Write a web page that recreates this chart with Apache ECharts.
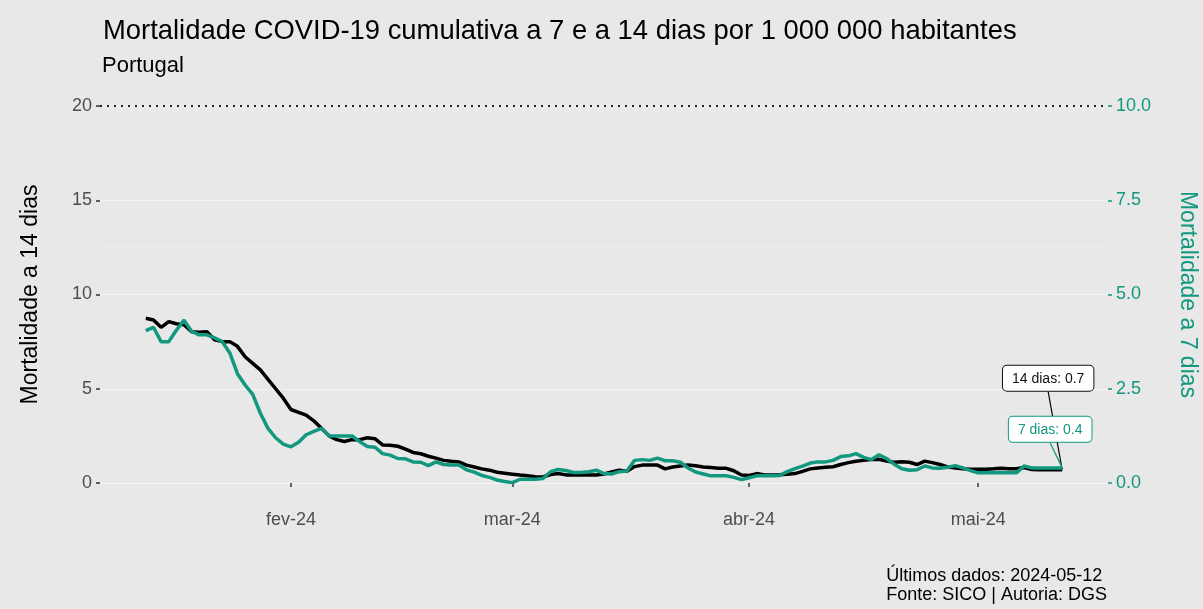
<!DOCTYPE html>
<html>
<head>
<meta charset="utf-8">
<script src="https://cdn.jsdelivr.net/npm/echarts@6/dist/echarts.min.js"></script>
<style>
  html, body { margin: 0; padding: 0; background: #E8E8E8; }
  #chart { width: 1203px; height: 609px; }
</style>
</head>
<body>
<div id="chart"></div>
<script>
// primeiro dia da série (UTC), um valor por dia até 2024-05-12
var startDay = '2024-01-13';

// mortalidade a 14 dias por 1 000 000 hab. (eixo esquerdo)
var mort14 = [
  8.74, 8.65, 8.26, 8.56, 8.45, 8.4, 8.03, 8.0, 8.03, 7.6,
  7.5, 7.5, 7.25, 6.7, 6.35, 6.0, 5.5, 5.0, 4.5, 3.9,
  3.75, 3.6, 3.3, 2.9, 2.5, 2.3, 2.2, 2.3, 2.3, 2.4,
  2.35, 2.02, 2.0, 1.95, 1.8, 1.62, 1.55, 1.42, 1.32, 1.2,
  1.15, 1.12, 0.95, 0.85, 0.75, 0.68, 0.57, 0.52, 0.47, 0.42,
  0.38, 0.33, 0.32, 0.45, 0.5, 0.43, 0.42, 0.42, 0.42, 0.42,
  0.48, 0.58, 0.68, 0.62, 0.87, 0.95, 0.95, 0.95, 0.75, 0.85,
  0.9, 0.95, 0.92, 0.85, 0.82, 0.78, 0.78, 0.65, 0.42, 0.4,
  0.5, 0.42, 0.42, 0.44, 0.47, 0.5, 0.62, 0.75, 0.8, 0.84,
  0.86, 0.98, 1.08, 1.15, 1.2, 1.24, 1.26, 1.16, 1.1, 1.13,
  1.1, 0.98, 1.16, 1.08, 0.98, 0.85, 0.8, 0.75, 0.73, 0.73,
  0.73, 0.75, 0.78, 0.75, 0.76, 0.82, 0.72, 0.7, 0.7, 0.7,
  0.7
];

// mortalidade a 7 dias por 1 000 000 hab. (eixo direito)
var mort7 = [
  4.04, 4.13, 3.75, 3.75, 4.05, 4.32, 4.02, 3.93, 3.93, 3.85,
  3.75, 3.45, 2.9, 2.6, 2.35, 1.85, 1.45, 1.2, 1.03, 0.96,
  1.08, 1.28, 1.37, 1.45, 1.25, 1.25, 1.25, 1.25, 1.1, 0.97,
  0.95, 0.78, 0.74, 0.65, 0.64, 0.56, 0.55, 0.46, 0.56, 0.49,
  0.48, 0.48, 0.35, 0.29, 0.2, 0.15, 0.08, 0.04, 0.01, 0.1,
  0.1, 0.1, 0.12, 0.3, 0.36, 0.33, 0.28, 0.28, 0.3, 0.34,
  0.25, 0.24, 0.3, 0.32, 0.6, 0.62, 0.6, 0.66, 0.59, 0.59,
  0.55, 0.4, 0.29, 0.24, 0.19, 0.19, 0.19, 0.15, 0.09, 0.14,
  0.19, 0.19, 0.19, 0.2, 0.3, 0.38, 0.45, 0.53, 0.56, 0.56,
  0.6, 0.7, 0.72, 0.78, 0.68, 0.62, 0.75, 0.65, 0.5, 0.38,
  0.34, 0.35, 0.45, 0.4, 0.39, 0.42, 0.46, 0.4, 0.33, 0.27,
  0.27, 0.27, 0.27, 0.27, 0.27, 0.45, 0.4, 0.4, 0.4, 0.4,
  0.4
];

var monthTicks = ['2024-02-01', '2024-03-01', '2024-04-01', '2024-05-01'];
var monthNames = ['jan', 'fev', 'mar', 'abr', 'mai', 'jun', 'jul', 'ago', 'set', 'out', 'nov', 'dez'];
var ticks14 = [0, 5, 10, 15, 20];
var ticks7 = [0, 2.5, 5, 7.5, 10];

var DAY = 86400000;
var teal = '#11987F';
var font = 'Liberation Sans, Arial, sans-serif';

function ts(s) { return Date.parse(s + 'T00:00:00Z'); }

var t0 = ts(startDay);
var data14 = mort14.map(function (v, i) { return [t0 + i * DAY, v]; });
var data7 = mort7.map(function (v, i) { return [t0 + i * DAY, v]; });
var last = mort14.length - 1;

// caixa com o último valor
data14[last] = {
  value: data14[last],
  label: {
    show: true,
    formatter: '14 dias: ' + mort14[last].toFixed(1),
    color: '#111', borderColor: '#111'
  }
};
data7[last] = {
  value: data7[last],
  label: {
    show: true,
    formatter: '7 dias: ' + mort7[last].toFixed(1),
    color: teal, borderColor: teal
  }
};

var boxLabel = {
  show: false,
  position: 'top',
  distance: 0,
  fontFamily: font,
  fontSize: 14,
  backgroundColor: '#fff',
  borderWidth: 1,
  borderRadius: 4,
  padding: [6, 9, 5, 9]
};

var myChart = echarts.init(document.getElementById('chart'));
myChart.setOption({
  animation: false,
  backgroundColor: '#E8E8E8',
  textStyle: { fontFamily: font },
  title: [{
    text: 'Mortalidade COVID-19 cumulativa a 7 e a 14 dias por 1 000 000 habitantes',
    left: 98, top: 13,
    textStyle: { fontFamily: font, fontSize: 27.4, fontWeight: 'normal', color: '#000' }
  }, {
    text: 'Portugal',
    left: 97, top: 50,
    textStyle: { fontFamily: font, fontSize: 22, fontWeight: 'normal', color: '#000' }
  }],
  grid: { left: 100, right: 95, top: 106, bottom: 126, outerBoundsMode: 'none' },
  xAxis: {
    type: 'value',
    min: t0 - 6 * DAY,
    max: t0 + (last + 6) * DAY,
    offset: 20,
    axisLine: { show: false },
    splitLine: { show: false },
    axisTick: {
      show: true, length: 4, customValues: monthTicks.map(ts),
      lineStyle: { color: '#333', width: 1.5 }
    },
    axisLabel: {
      customValues: monthTicks.map(ts),
      margin: 8, fontSize: 18, color: '#4D4D4D', fontFamily: font,
      formatter: function (v) {
        var d = new Date(v);
        return monthNames[d.getUTCMonth()] + '-' + String(d.getUTCFullYear()).slice(2);
      }
    }
  },
  yAxis: [{
    type: 'value',
    min: 0, max: 20, interval: 5,
    name: 'Mortalidade a 14 dias',
    nameLocation: 'middle', nameRotate: 90, nameGap: 58,
    nameTextStyle: { fontSize: 23, color: '#000', fontFamily: font },
    axisLine: { show: false },
    axisTick: { show: true, length: 4, lineStyle: { color: '#333', width: 1.5 } },
    axisLabel: {
      margin: 8, fontSize: 18, color: '#4D4D4D', fontFamily: font,
      customValues: ticks14
    },
    splitLine: { show: true, lineStyle: { color: '#F4F4F4', width: 1.2 } },
    minorTick: { show: false, splitNumber: 2 },
    minorSplitLine: { show: true, lineStyle: { color: '#EEEEEE', width: 0.8 } }
  }, {
    type: 'value',
    min: 0, max: 10, interval: 2.5,
    position: 'right',
    name: 'Mortalidade a 7 dias',
    nameLocation: 'middle', nameRotate: -90, nameGap: 68,
    nameTextStyle: { fontSize: 23, color: teal, fontFamily: font },
    axisLine: { show: false },
    axisTick: { show: true, length: 4, lineStyle: { color: teal, width: 1.5 } },
    axisLabel: {
      margin: 8, fontSize: 18, color: teal, fontFamily: font,
      customValues: ticks7,
      formatter: function (v) { return v.toFixed(1); }
    },
    splitLine: { show: false }
  }],
  series: [{
    name: '14 dias',
    type: 'line',
    yAxisIndex: 0,
    data: data14,
    symbol: 'circle', symbolSize: 0.1, showSymbol: true, showAllSymbol: true,
    lineStyle: { color: '#000', width: 3.5 },
    itemStyle: { color: '#000' },
    label: boxLabel,
    labelLine: { show: true, lineStyle: { color: '#000', width: 1.2 } },
    labelLayout: function (p) {
      return p.dataIndex === last ? { dx: -14, dy: -79 } : {};
    },
    markLine: {
      silent: true, symbol: 'none',
      label: { show: false },
      lineStyle: { color: '#222', type: [2, 5], width: 2 },
      data: [{ yAxis: 20 }]
    },
    z: 2
  }, {
    name: '7 dias',
    type: 'line',
    yAxisIndex: 1,
    data: data7,
    symbol: 'circle', symbolSize: 0.1, showSymbol: true, showAllSymbol: true,
    lineStyle: { color: teal, width: 3.5 },
    itemStyle: { color: teal },
    label: boxLabel,
    labelLine: { show: true, lineStyle: { color: teal, width: 1.2 } },
    labelLayout: function (p) {
      return p.dataIndex === last ? { dx: -12, dy: -26 } : {};
    },
    z: 3
  }],
  graphic: [{
    type: 'text',
    right: 96, top: 567,
    style: {
      text: 'Últimos dados: 2024-05-12\nFonte: SICO | Autoria: DGS',
      fontFamily: font, fontSize: 18, lineHeight: 19,
      fill: '#000', align: 'right'
    }
  }]
});
</script>
</body>
</html>
